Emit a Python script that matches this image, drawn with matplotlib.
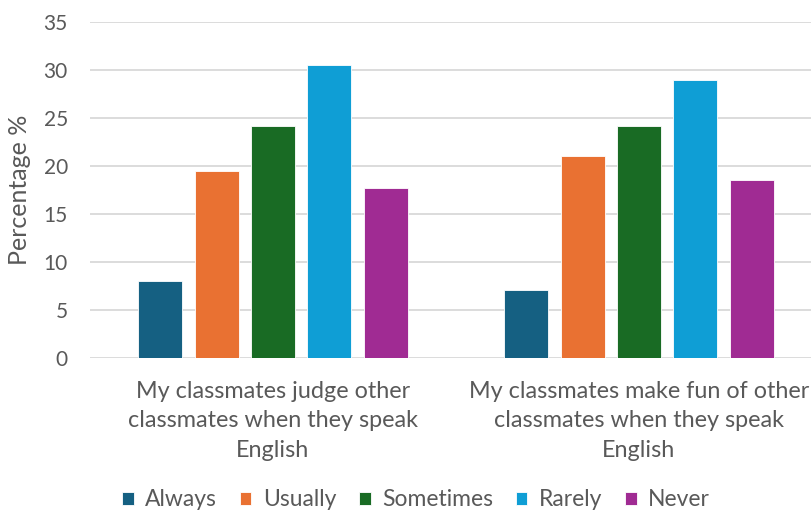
import matplotlib
matplotlib.use("Agg")
import matplotlib.pyplot as plt
import numpy as np

plt.rcParams['font.family'] = ['Lato', 'DejaVu Sans']

categories = [
    "My classmates judge other\nclassmates when they speak\nEnglish",
    "My classmates make fun of other\nclassmates when they speak\nEnglish",
]
series_names = ["Always", "Usually", "Sometimes", "Rarely", "Never"]
always = [8.0, 7.1]
usually = [19.4, 21.0]
sometimes = [24.1, 24.1]
rarely = [30.5, 28.9]
never = [17.7, 18.5]
series_values = [always, usually, sometimes, rarely, never]
colors = ["#156082", "#E97132", "#196B24", "#0F9ED5", "#A02B93"]
y_ticks = [0, 5, 10, 15, 20, 25, 30, 35]

text_color = "#595959"
grid_color = "#D9D9D9"

fig = plt.figure(figsize=(8.12, 5.13), dpi=100)
ax = fig.add_axes([90 / 812, (513 - 357.7) / 513, 732 / 812, 336 / 513])

x = np.arange(len(categories))
step = 0.154
width = 0.12
for i, (name, vals, c) in enumerate(zip(series_names, series_values, colors)):
    offs = (i - 2) * step
    ax.bar(x + offs, vals, width, color=c, label=name, zorder=3,
           edgecolor="white", linewidth=0.6)

ax.set_xlim(-0.5, 1.5)
ax.set_ylim(0, 35)
ax.set_yticks(y_ticks)
ax.set_yticklabels([str(t) for t in y_ticks])
ax.yaxis.grid(True, color=grid_color, linewidth=1.3, zorder=0)
ax.set_axisbelow(True)
for s in ax.spines.values():
    s.set_visible(False)
ax.tick_params(axis="y", length=0, pad=16, labelsize=15, labelcolor=text_color)
ax.tick_params(axis="x", length=0, pad=17, labelsize=16.8, labelcolor=text_color)
ax.set_xticks(x)
ax.set_xticklabels(categories, linespacing=1.48)
ax.set_ylabel("Percentage %", fontsize=18, color=text_color)
ax.yaxis.set_label_coords(-0.08, 0.5)

handles, labels = ax.get_legend_handles_labels()
leg = fig.legend(handles, labels, loc="center", ncol=5,
                 bbox_to_anchor=(416 / 812, 1 - 500 / 513),
                 frameon=False, fontsize=16.5, handlelength=0.5,
                 handleheight=0.5, handletextpad=0.5, columnspacing=1.0)
for t in leg.get_texts():
    t.set_color(text_color)

fig.savefig("out.png", dpi=100)
